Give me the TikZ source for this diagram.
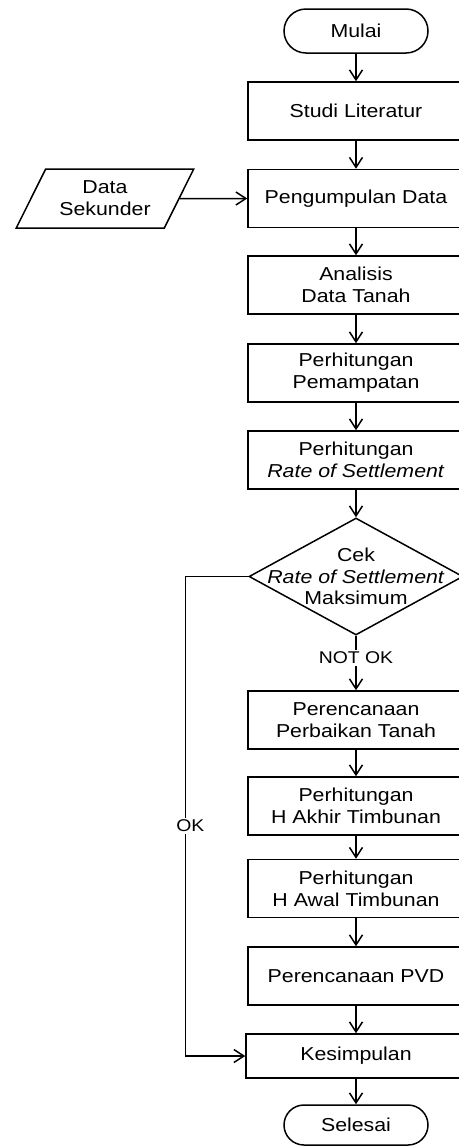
\documentclass[tikz,border=0pt]{standalone}
\usepackage{fontspec}
\setmainfont{Liberation Sans}[FakeStretch=1.14]
\usetikzlibrary{arrows.meta, shapes.geometric}

\tikzset{
  basefont/.style={font=\fontsize{9.35pt}{10.85pt}\selectfont},
  procbox/.style={draw, line width=0.75pt, basefont, align=center,
    minimum width=108pt, minimum height=29pt, inner sep=1pt},
  termbox/.style={draw, line width=0.75pt, basefont, rounded corners=11pt,
    minimum width=72pt, minimum height=22pt, inner sep=1pt},
  iobox/.style={trapezium, trapezium left angle=58.6, trapezium right angle=121.4,
    trapezium stretches=true, draw, line width=0.75pt, basefont, align=center,
    minimum width=89pt, minimum height=29.5pt, inner sep=1pt},
  decbox/.style={diamond, draw, line width=0.75pt, minimum width=107pt,
    minimum height=58.5pt, inner sep=0pt},
  edgelabel/.style={fill=white, inner sep=1pt, font=\fontsize{8.5pt}{10pt}\selectfont},
  flow/.style={->, line width=0.75pt}
}

\begin{document}
\begin{tikzpicture}[x=0.5pt, y=-0.5pt, >={Straight Barb[length=5pt,width=6.5pt]}]
\clip (0,0) rectangle (459,1146);

%------------------ MAIN COLUMN ------------------%
\node[termbox] (mulai) at (356,31) {Mulai};
\node[procbox] (studi) at (356,111) {Studi Literatur};
\node[procbox] (kumpul) at (356,198.5) {Pengumpulan Data};
\node[procbox] (analisis) at (356,285) {Analisis\\Data Tanah};
\node[procbox] (pemampatan) at (356,373) {Perhitungan\\Pemampatan};
\node[procbox] (rate) at (356,460) {Perhitungan\\\textit{Rate of Settlement}};

\node[decbox, label={[basefont, align=center]center:Cek\\\textit{Rate of Settlement}\\Maksimum}]
  (cek) at (356,576.5) {};

\node[procbox] (perbaikan) at (356,720) {Perencanaan\\Perbaikan Tanah};
\node[procbox] (akhir) at (356,806) {Perhitungan\\H Akhir Timbunan};
\node[procbox] (awal) at (356,888.5) {Perhitungan\\H Awal Timbunan};
\node[procbox] (pvd) at (356,976) {Perencanaan PVD};
\node[procbox, minimum width=110pt, minimum height=22pt] (kesimpulan) at (356,1056) {Kesimpulan};
\node[termbox, minimum height=20pt, rounded corners=10pt] (selesai) at (356,1125) {Selesai};

%------------------ INPUT ------------------%
\node[iobox] (sekunder) at (105,198.5) {Data\\Sekunder};

%------------------ CONNECTORS ------------------%
\draw[flow] (mulai) -- (studi);
\draw[flow] (studi) -- (kumpul);
\draw[flow] (sekunder.east) -- (kumpul.west);
\draw[flow] (kumpul) -- (analisis);
\draw[flow] (analisis) -- (pemampatan);
\draw[flow] (pemampatan) -- (rate);
\draw[flow] (rate) -- (cek.north);
\draw[flow] (cek.south) -- node[edgelabel, pos=0.4] {NOT OK} (perbaikan.north);
\draw[flow] (perbaikan) -- (akhir);
\draw[flow] (akhir) -- (awal);
\draw[flow] (awal) -- (pvd);
\draw[flow] (pvd) -- (kesimpulan);
\draw[flow] (kesimpulan) -- (selesai);

\draw[flow] (cek.west) -- ++(-63,0)
  |- node[edgelabel, pos=0.26, xshift=2.5pt] {OK} (kesimpulan.west);

\end{tikzpicture}
\end{document}
